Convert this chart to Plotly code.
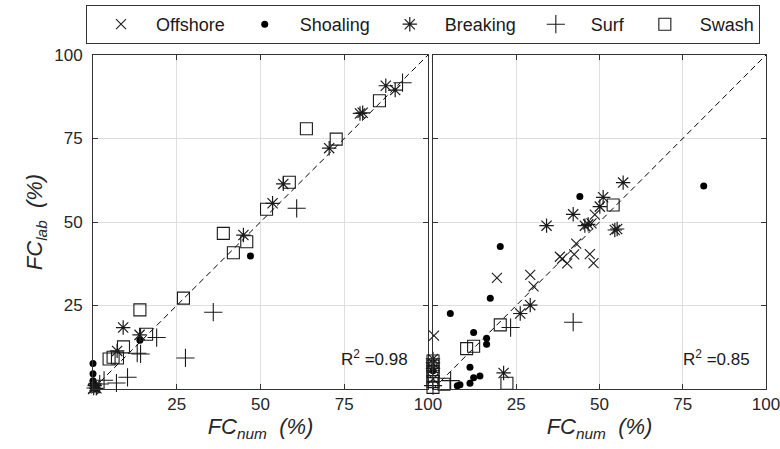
import plotly.graph_objects as go

# ---------------- data (FC_num, FC_lab) ----------------
# Left panel
L_off_x = [0.0, 0.5]
L_off_y = [0.0, 0.3]
L_sho_x = [47.0, 14.0, 0.0, 0.0, 0.0, 0.3, 0.8, 0.2]
L_sho_y = [39.8, 14.6, 7.6, 4.6, 2.5, 0.8, 0.2, 1.5]
L_brk_x = [87.4, 90.2, 79.7, 80.5, 70.5, 56.8, 53.6, 44.9, 9.0, 13.9, 7.2, 0.5, 0.2, 1.0]
L_brk_y = [90.8, 89.5, 82.5, 82.7, 72.1, 61.4, 55.6, 46.1, 18.4, 16.2, 11.4, 1.0, 0.3, 0.2]
L_srf_x = [92.4, 60.8, 35.9, 19.0, 13.2, 14.2, 27.6, 10.3, 7.0, 3.3, 2.0]
L_srf_y = [91.7, 54.1, 23.0, 15.4, 10.7, 10.5, 9.3, 3.5, 1.8, 2.6, 1.5]
L_swa_x = [85.5, 63.7, 72.6, 58.6, 51.8, 38.9, 45.9, 41.9, 27.0, 14.0, 16.0, 9.1, 4.8, 6.0, 7.3]
L_swa_y = [86.3, 77.9, 74.8, 61.9, 53.8, 46.6, 44.1, 40.8, 27.2, 23.7, 16.4, 12.6, 9.0, 9.5, 9.3]

# Right panel
R_off_x = [0.3, 19.2, 29.2, 30.2, 38.1, 38.8, 40.3, 42.4, 43.0, 47.1, 48.2, 47.6, 48.6, 0.0]
R_off_y = [16.0, 33.3, 34.2, 30.7, 39.6, 39.0, 37.6, 40.3, 43.5, 40.4, 37.7, 49.6, 52.2, 3.0]
R_sho_x = [5.2, 17.2, 20.2, 44.1, 81.3, 12.2, 16.1, 16.1, 11.1, 12.2, 14.1, 11.1, 7.3, 8.1, 0.0]
R_sho_y = [22.6, 27.2, 42.7, 57.6, 60.8, 16.9, 15.2, 13.4, 6.5, 3.4, 3.9, 1.7, 1.0, 1.3, 5.5]
R_brk_x = [57.1, 51.1, 50.1, 42.1, 34.1, 45.6, 46.6, 54.6, 55.3, 29.2, 26.2, 21.2, 0.0, 0.0, 0.0]
R_brk_y = [61.8, 57.4, 54.6, 52.3, 48.9, 48.9, 49.3, 47.6, 47.9, 25.1, 22.6, 4.8, 9.0, 7.8, 6.2]
R_srf_x = [42.1, 23.3, 5.3, 0.0]
R_srf_y = [20.0, 18.4, 2.5, 1.0]
R_swa_x = [54.1, 20.2, 10.1, 12.2, 3.3, 22.2, 0.0, 0.0, 0.0, 0.0, 0.0, 0.0]
R_swa_y = [55.1, 19.2, 12.1, 12.8, 1.4, 1.7, 0.5, 2.2, 3.8, 5.2, 6.8, 8.4]

one_to_one = [0, 100]
tick_vals = [25, 50, 75, 100]
tick_text = ["25", "50", "75", "100"]
r2_left = "R<sup>2</sup> =0.98"
r2_right = "R<sup>2</sup> =0.85"

series_names = ["Offshore", "Shoaling", "Breaking", "Surf", "Swash"]
FONT = "Liberation Sans, Arial, sans-serif"
INK = "#1a1a1a"

styles = {
    "Offshore": dict(symbol="x-thin-open", size=10, line=dict(width=1.1, color=INK), color=INK),
    "Shoaling": dict(symbol="circle", size=7, line=dict(width=0, color=INK), color="black"),
    "Breaking": dict(symbol="asterisk-open", size=12, line=dict(width=1.2, color=INK), color=INK),
    "Surf": dict(symbol="cross-thin-open", size=13, line=dict(width=1.1, color=INK), color=INK),
    "Swash": dict(symbol="square-open", size=12, line=dict(width=1.1, color=INK), color=INK),
}

left = {"Offshore": (L_off_x, L_off_y), "Shoaling": (L_sho_x, L_sho_y),
        "Breaking": (L_brk_x, L_brk_y), "Surf": (L_srf_x, L_srf_y), "Swash": (L_swa_x, L_swa_y)}
right = {"Offshore": (R_off_x, R_off_y), "Shoaling": (R_sho_x, R_sho_y),
         "Breaking": (R_brk_x, R_brk_y), "Surf": (R_srf_x, R_srf_y), "Swash": (R_swa_x, R_swa_y)}

fig = go.Figure()

for xa, ya in [("x", "y"), ("x2", "y2")]:
    fig.add_trace(go.Scatter(x=one_to_one, y=one_to_one, mode="lines", xaxis=xa, yaxis=ya,
                             line=dict(color="black", width=1, dash="6px,4px"),
                             showlegend=False, hoverinfo="skip"))

for name in series_names:
    x, y = left[name]
    fig.add_trace(go.Scatter(x=x, y=y, mode="markers", name=name, legendgroup=name,
                             marker=styles[name], xaxis="x", yaxis="y", cliponaxis=False))
for name in series_names:
    x, y = right[name]
    fig.add_trace(go.Scatter(x=x, y=y, mode="markers", name=name, legendgroup=name,
                             showlegend=False, marker=styles[name], xaxis="x2", yaxis="y2",
                             cliponaxis=False))

W, H = 780, 449
xd1 = [93 / W, 428 / W]
xd2 = [433 / W, 766 / W]
yd = [(H - 389) / H, (H - 55) / H]

axis_common = dict(range=[0, 100], tickvals=tick_vals, ticktext=tick_text, automargin=False,
                   ticklabeloverflow="allow",
                   showgrid=True, gridcolor="#dedede", gridwidth=1, zeroline=False,
                   showline=True, linecolor="#333333", linewidth=1, mirror="ticks",
                   ticks="inside", ticklen=5, tickcolor="#333333",
                   tickfont=dict(family=FONT, size=17, color="#262626"))

xtitle = "<i>FC</i><sub><i>num</i></sub><i>  (%)</i>"
ytitle = "<i>FC</i><sub><i>lab</i></sub><i>  (%)</i>"
TFONT = dict(size=22, family=FONT, color="#262626")

fig.update_layout(
    width=W, height=H,
    margin=dict(l=0, r=0, t=0, b=0, autoexpand=False),
    paper_bgcolor="white", plot_bgcolor="white",
    font=dict(family=FONT, color="#262626"),
    xaxis=dict(domain=xd1, anchor="y", ticklabelstandoff=0,
               title=dict(text=xtitle, font=TFONT, standoff=4), **axis_common),
    yaxis=dict(domain=yd, anchor="x", ticklabelstandoff=6,
               title=dict(text=ytitle, font=TFONT, standoff=5), **axis_common),
    xaxis2=dict(domain=xd2, anchor="y2", ticklabelstandoff=0,
                title=dict(text=xtitle, font=TFONT, standoff=4), **axis_common),
    yaxis2=dict(domain=yd, anchor="x2", showticklabels=False, **axis_common),
    legend=dict(orientation="h", x=86 / W, xanchor="left", y=1 - 5 / H, yanchor="top",
                bordercolor="#333333", borderwidth=1, bgcolor="white",
                font=dict(family=FONT, size=18, color="#1a1a1a"),
                itemwidth=60, itemsizing="trace"),
    showlegend=True,
    annotations=[
        dict(text=r2_left, x=94.6, y=9.3, xref="x", yref="y", xanchor="right", yanchor="middle",
             showarrow=False, font=dict(family=FONT, size=17, color="#1a1a1a")),
        dict(text=r2_right, x=95.8, y=9.3, xref="x2", yref="y2", xanchor="right", yanchor="middle",
             showarrow=False, font=dict(family=FONT, size=17, color="#1a1a1a")),
    ],
)

fig.write_html("out.html")
